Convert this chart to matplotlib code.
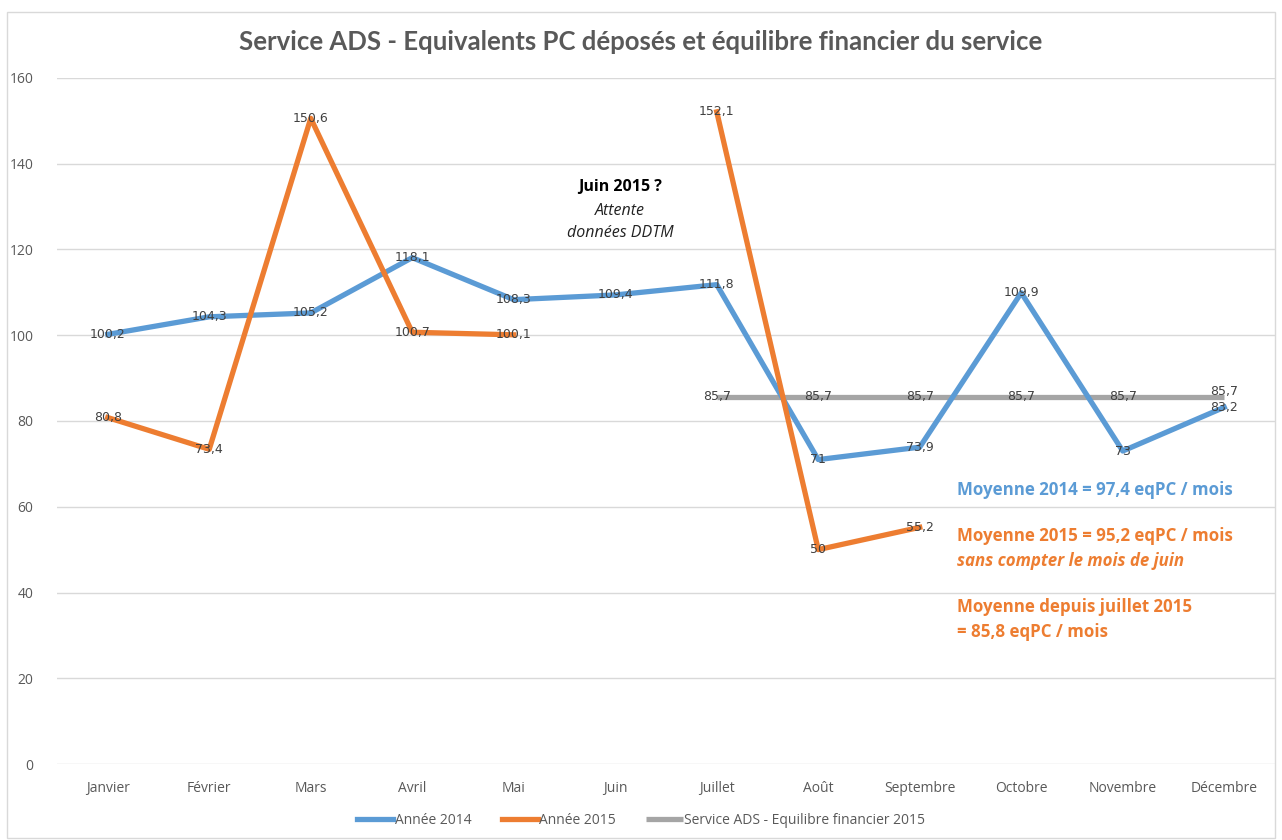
import matplotlib
matplotlib.use("Agg")
import matplotlib.pyplot as plt
import numpy as np

months = ["Janvier", "Février", "Mars", "Avril", "Mai", "Juin", "Juillet",
          "Août", "Septembre", "Octobre", "Novembre", "Décembre"]
annee_2014 = [100.2, 104.3, 105.2, 118.1, 108.3, 109.4, 111.8, 71, 73.9, 109.9, 73, 83.2]
annee_2015 = [80.8, 73.4, 150.6, 100.7, 100.1, None, 152.1, 50, 55.2, None, None, None]
equilibre = [None, None, None, None, None, None, 85.7, 85.7, 85.7, 85.7, 85.7, 85.7]
y_ticks = [0, 20, 40, 60, 80, 100, 120, 140, 160]

C14 = "#5B9BD5"
C15 = "#ED7D31"
CEQ = "#A5A5A5"
TXT = "#595959"
LBL = "#404040"

def fmt(v):
    s = ("%.1f" % v).rstrip("0").rstrip(".")
    return s.replace(".", ",")

def arr(v):
    return np.array([np.nan if x is None else x for x in v], dtype=float)

fig = plt.figure(figsize=(12.82, 8.40), dpi=100)
ax = fig.add_axes([57/1282, (840-764)/840, (1275-57)/1282, (764-78)/840])

x = np.arange(len(months))
y15 = arr(annee_2015)
ax.plot(x, arr(equilibre), color=CEQ, lw=3.8, solid_capstyle="butt", zorder=2,
        label="Service ADS - Equilibre financier 2015")
ax.plot(x, arr(annee_2014), color=C14, lw=3.8, solid_joinstyle="round", zorder=3, label="Année 2014")
ax.plot(x, y15, color=C15, lw=3.8, solid_joinstyle="round", zorder=4, label="Année 2015")

lab_kw = dict(ha="center", va="center", fontsize=9, color=LBL, family="DejaVu Sans", zorder=6)
for xi, v in zip(x, annee_2014):
    if v is not None:
        ax.text(xi, v, fmt(v), **lab_kw)
for xi, v in zip(x, annee_2015):
    if v is not None:
        ax.text(xi, v, fmt(v), **lab_kw)
for xi, v in zip(x, equilibre):
    if v is not None:
        dy = 1.2 if xi == 11 else 0
        ax.text(xi, v + dy, fmt(v), **lab_kw)

ax.set_xlim(-0.5, 11.5)
ax.set_ylim(0, 160)
ax.set_yticks(y_ticks)
ax.set_xticks(x)
ax.set_xticklabels(months)
ax.grid(axis="y", color="#D9D9D9", lw=1)
ax.set_axisbelow(True)
for s in ax.spines.values():
    s.set_visible(False)
ax.tick_params(length=0, colors=TXT, labelsize=10)
ax.tick_params(axis="x", pad=12)
ax.tick_params(axis="y", pad=17)
for t in ax.get_xticklabels() + ax.get_yticklabels():
    t.set_family("Open Sans")
    t.set_color(TXT)

fig.text(0.5, 1 - 42/840, "Service ADS - Equivalents PC déposés et équilibre financier du service",
         ha="center", va="center", fontsize=18.5, color=TXT, family="Lato", weight="bold")

# Juin annotation
ax.text(5.05, 134.6, "Juin 2015 ?", ha="center", va="center", fontsize=11.5, weight="bold",
        color="black", family="Open Sans")
ax.text(5.05, 129.0, "Attente", ha="center", va="center", fontsize=11.5, style="italic",
        color="#222222", family="Open Sans")
ax.text(5.05, 123.9, "données DDTM", ha="center", va="center", fontsize=11.5, style="italic",
        color="#222222", family="Open Sans")

tx = 957/1282
def ftext(ypx, s, col, **kw):
    fig.text(tx, 1 - ypx/840, s, ha="left", va="center", fontsize=12.2, color=col,
             family="Open Sans", **kw)
ftext(490, "Moyenne 2014 = 97,4 eqPC / mois", C14, weight="bold")
ftext(536, "Moyenne 2015 = 95,2 eqPC / mois", C15, weight="bold")
ftext(561, "sans compter le mois de juin", C15, weight="bold", style="italic")
ftext(607, "Moyenne depuis juillet 2015", C15, weight="bold")
ftext(632, "= 85,8 eqPC / mois", C15, weight="bold")

h, l = ax.get_legend_handles_labels()
order = [1, 2, 0]
leg = fig.legend([h[i] for i in order], [l[i] for i in order], loc="center",
                 bbox_to_anchor=(0.5, 1 - 820/840), ncol=3, frameon=False,
                 fontsize=10, handlelength=2.6, handletextpad=0.1, columnspacing=2.2)
for t in leg.get_texts():
    t.set_color(TXT)
    t.set_family("Open Sans")

# outer border
fig.patches.append(plt.Rectangle((7/1282, 0.002), 1 - 14/1282, 1 - 12/840 - 0.002,
                                 transform=fig.transFigure, fill=False,
                                 edgecolor="#D9D9D9", lw=1))

fig.savefig("out.png", dpi=100)
